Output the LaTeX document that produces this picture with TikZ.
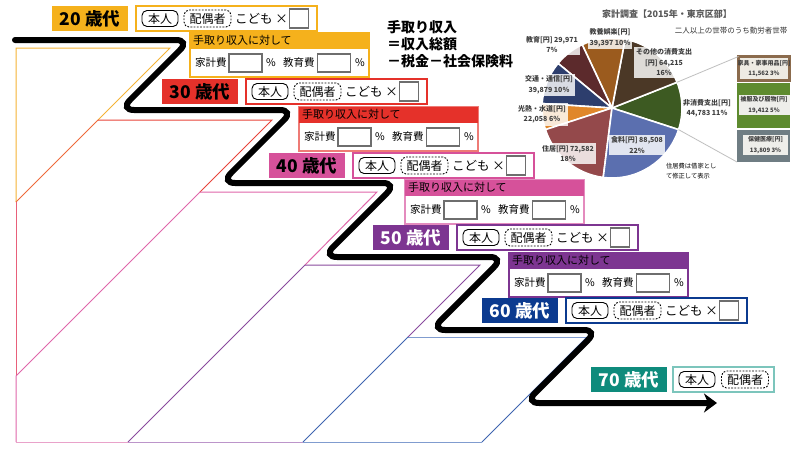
\documentclass[tikz,border=0pt]{standalone}
\usepackage{fontspec}
\setmainfont{Noto Sans CJK JP}
\usetikzlibrary{arrows.meta}

\definecolor{c20}{HTML}{F5B11C}
\definecolor{c30}{HTML}{E5312A}
\definecolor{c30l}{HTML}{EE7B76}
\definecolor{c40}{HTML}{D6519A}
\definecolor{c40l}{HTML}{E48BBE}
\definecolor{c50}{HTML}{7D3591}
\definecolor{c60}{HTML}{0B3A8F}
\definecolor{c70}{HTML}{0E8B7C}
\definecolor{c70l}{HTML}{7CC5BC}
\definecolor{ln20}{HTML}{F5B335}
\definecolor{ln2030}{HTML}{EE6A3A}
\definecolor{ln30}{HTML}{E8443A}
\definecolor{lnleft}{HTML}{E8607A}
\definecolor{ln40}{HTML}{E066AA}
\definecolor{ln40l}{HTML}{E9A2CA}
\definecolor{ln50}{HTML}{8A4A9E}
\definecolor{ln50l}{HTML}{BC95CA}
\definecolor{ln60}{HTML}{3E64B0}
\definecolor{ln60l}{HTML}{809CCF}
\definecolor{boxgray}{HTML}{6E6E6E}
\definecolor{pielabel}{HTML}{404040}
\definecolor{pgreen}{HTML}{3D5A22}
\definecolor{pother}{HTML}{4B3826}
\definecolor{pkyoyo}{HTML}{9B5B1E}
\definecolor{pkyoiku}{HTML}{5C2A2C}
\definecolor{pkotsu}{HTML}{2D3E6D}
\definecolor{pkonetsu}{HTML}{E0872A}
\definecolor{pjukyo}{HTML}{94494B}
\definecolor{pshoku}{HTML}{5B6FAF}
\definecolor{kagub}{HTML}{8B6B4D}
\definecolor{kaguf}{HTML}{EEEBE3}
\definecolor{hifuku}{HTML}{5E8B2F}
\definecolor{hoken}{HTML}{6F7D83}
\definecolor{colbox}{HTML}{EEEEEA}

\tikzset{
  every node/.style={inner sep=0pt, outer sep=0pt},
  agelabel/.style={anchor=north west, minimum width=76pt, minimum height=25pt, font=\fontsize{17.5}{18}\selectfont\bfseries},
  wbox/.style={anchor=north west, minimum width=181pt, minimum height=25pt, fill=white, line width=1.2pt},
  honnin/.style={draw=black, rounded corners=5pt, line width=0.9pt, minimum width=36pt, minimum height=16pt, font=\fontsize{12}{12}\selectfont},
  haigu/.style={honnin, dash pattern=on 1.8pt off 1.4pt, minimum width=47pt, minimum height=17pt},
  kodomo/.style={anchor=west, font=\fontsize{12.5}{12.5}\selectfont},
  sqbox/.style={draw=boxgray, line width=1.4pt, fill=white, minimum width=19pt, minimum height=19pt},
  tbody/.style={anchor=north west, minimum width=179pt, minimum height=44pt, fill=white, line width=1.2pt},
  thead/.style={anchor=north west, minimum height=15.5pt, text width=173pt, inner xsep=3pt, align=left, font=\fontsize{11}{11}\selectfont},
  tsmall/.style={font=\fontsize{10.5}{10.5}\selectfont},
  inbox/.style={draw=boxgray, line width=1.4pt, fill=white, minimum width=33pt, minimum height=18pt},
  stairline/.style={line width=1pt, line join=miter},
  pielab/.style={font=\fontsize{7}{10.5}\selectfont\bfseries, text=pielabel, align=center, fill=white, fill opacity=0.82, text opacity=1, inner sep=2pt},
  collab/.style={font=\fontsize{6}{10.5}\selectfont\bfseries, text=pielabel, align=center, inner sep=2pt},
  pienote/.style={font=\fontsize{6.3}{10}\selectfont, align=left, anchor=west},
  slice/.style={draw=white, line width=1.6pt, line join=round},
  colline/.style={draw=gray!50, line width=0.8pt},
  formula/.style={anchor=west, font=\fontsize{14}{14}\selectfont\bfseries},
}

\newcommand{\AgeRow}[6]{%
  \node[agelabel, fill=#3, text=#4] (lab#6) at (#1,#2) {#5 歳代};
  \node[wbox, draw=#3] (wb#6) at ({#1+84},#2) {};
  \node[honnin] (hn#6) at ({#1+84+24},{#2+12.5}) {本人};
  \node[haigu] (hg#6) at ({#1+84+71.5},{#2+12.5}) {配偶者};
  \node[kodomo] (kd#6) at ({#1+84+99},{#2+12.5}) {こども ×};
  \node[sqbox] (sq#6) at ({#1+84+163},{#2+12.5}) {};
}
\newcommand{\TedoriBox}[5]{%
  \node[tbody, draw=#4] (tb#5) at (#1,#2) {};
  \node[thead, fill=#3] (th#5) at (#1,#2) {手取り収入に対して};
  \node[tsmall, anchor=west] (kk#5) at ({#1+5},{#2+30}) {家計費};
  \node[inbox] (ia#5) at ({#1+55.5},{#2+30}) {};
  \node[tsmall] (pa#5) at ({#1+81},{#2+30}) {\%};
  \node[tsmall, anchor=west] (ky#5) at ({#1+93},{#2+30}) {教育費};
  \node[inbox] (ib#5) at ({#1+144},{#2+30}) {};
  \node[tsmall] (pb#5) at ({#1+170},{#2+30}) {\%};
}

\begin{document}
\begin{tikzpicture}[x=1pt,y=-1pt]
\useasboundingbox[fill=white] (0,0) rectangle (800,450);

% ---- parallelogram outlines ----
\draw[stairline, ln20] (16,202) -- (16,48) -- (170,48) -- (98,120);
\draw[stairline, ln2030] (98,120) -- (16,202);
\draw[stairline, ln30] (98,120) -- (272,120) -- (200,192);
\draw[stairline, lnleft] (16,202) -- (16,376);
\draw[stairline, ln40] (200,192) -- (377,192) -- (305,265);
\draw[stairline, ln40] (200,192) -- (16,376) -- (16,442);
\draw[stairline, ln40l] (16,442) -- (128,442);
\draw[stairline, ln50] (305,265) -- (480,265) -- (408,337);
\draw[stairline, ln50] (305,265) -- (128,442);
\draw[stairline, ln50l] (128,442) -- (303,442);
\draw[stairline, ln60l] (408,337) -- (587,337);
\draw[stairline, ln60] (587,337) -- (482,442);
\draw[stairline, ln60] (408,337) -- (303,442);
\draw[stairline, ln60l] (303,442) -- (482,442);

% ---- thick life path ----
\coordinate (s0) at (15,40);
\coordinate (r0) at (190,40);
\coordinate (l0) at (120,110);
\coordinate (r1) at (294,110);
\coordinate (l1) at (221,183);
\coordinate (r2) at (397,183);
\coordinate (l2) at (323,257);
\coordinate (r3) at (504,257);
\coordinate (l3) at (431,330);
\coordinate (r4) at (598,330);
\coordinate (l4) at (525,403);
\coordinate (e0) at (717,403);
\draw[line width=6pt, rounded corners=14pt, line cap=round, -{Stealth[length=13pt,width=19pt,inset=4pt]}]
  (s0) -- (r0) -- (l0) -- (r1) -- (l1) -- (r2) -- (l2) -- (r3) -- (l3) -- (r4) -- (l4) -- (e0);

% ---- age rows ----
\AgeRow{52}{6}{c20}{black}{20}{a}
\TedoriBox{190}{33}{c20}{c20}{a}
\AgeRow{162}{79}{c30}{black}{30}{b}
\TedoriBox{299}{107}{c30}{c30l}{b}
\AgeRow{269}{153}{c40}{black}{40}{c}
\TedoriBox{405}{180}{c40}{c40l}{c}
\AgeRow{373}{225}{c50}{white}{50}{d}
\TedoriBox{509}{253}{c50}{c50}{d}
\AgeRow{482}{298}{c60}{white}{60}{e}
\node[agelabel, fill=c70, text=white] (labf) at (591,367) {70 歳代};
\node[wbox, draw=c70l, minimum width=101pt] (wbf) at (673,367) {};
\node[honnin] (hnf) at (697,379.5) {本人};
\node[haigu] (hgf) at (745,379.5) {配偶者};

% ---- formula ----
\node[formula] (f1) at (387,27.5) {手取り収入};
\node[formula] (f2) at (387,44.5) {＝収入総額};
\node[formula] (f3) at (387,61.5) {－税金－社会保険料};

% ---- pie chart ----
\node[font=\fontsize{9}{9}\selectfont\bfseries, text=black!65] (ptitle) at (667,14) {家計調査【2015年・東京区部】};
\node[font=\fontsize{7.5}{7.5}\selectfont, text=black!80] (psub) at (731,31) {二人以上の世帯のうち勤労者世帯};
\begin{scope}[shift={(612,108)}]
  \coordinate (pc) at (0,0);
  \filldraw[slice, fill=pgreen] (0,0) -- (-18:70pt) arc[start angle=-18, end angle=21.6, radius=70pt] -- cycle;
  \filldraw[slice, fill=pother] (0,0) -- (21.6:70pt) arc[start angle=21.6, end angle=79.2, radius=70pt] -- cycle;
  \filldraw[slice, fill=pkyoyo] (0,0) -- (79.2:70pt) arc[start angle=79.2, end angle=115.2, radius=70pt] -- cycle;
  \filldraw[slice, fill=pkyoiku] (0,0) -- (115.2:70pt) arc[start angle=115.2, end angle=140.4, radius=70pt] -- cycle;
  \filldraw[slice, fill=pkotsu] (0,0) -- (140.4:70pt) arc[start angle=140.4, end angle=176.4, radius=70pt] -- cycle;
  \filldraw[slice, fill=pkonetsu] (0,0) -- (176.4:70pt) arc[start angle=176.4, end angle=198, radius=70pt] -- cycle;
  \filldraw[slice, fill=pjukyo] (0,0) -- (198:70pt) arc[start angle=198, end angle=262.8, radius=70pt] -- cycle;
  \filldraw[slice, fill=pshoku] (0,0) -- (262.8:70pt) arc[start angle=262.8, end angle=342, radius=70pt] -- cycle;
  \coordinate (pa1) at (21.6:70pt);
  \coordinate (pa2) at (-18:70pt);
\end{scope}
\node[pielab] (lkyoiku) at (552,44.5) {教育[円] 29,971\\7\%};
\node[pielab] (lkyoyo) at (610,38) {教養娯楽[円]\\39,397 10\%};
\node[pielab] (lother) at (664,62.5) {その他の消費支出\\{}[円] 64,215\\16\%};
\node[pielab] (lkotsu) at (549,85) {交通・通信[円]\\39,879 10\%};
\node[pielab] (lkonetsu) at (542,114.5) {光熱・水道[円]\\22,058 6\%};
\node[pielab] (ljukyo) at (568,153.5) {住居[円] 72,582\\18\%};
\node[pielab] (lshoku) at (637,145) {食料[円] 88,508\\22\%};
\node[pielab, fill opacity=0] (lhisho) at (707,108.5) {非消費支出[円]\\44,783 11\%};
\node[pienote] (lnote) at (666,171) {住居費は借家とし\\て修正して表示};

% ---- breakdown column ----
\node[anchor=north west, draw=kagub, line width=2.5pt, fill=kaguf, minimum width=51pt, minimum height=24pt] (kagu) at (738.5,56.5) {};
\node[collab] (tkagu) at (kagu.center) {家具・家事用品[円]\\11,562 3\%};
\node[anchor=north west, fill=hifuku, minimum width=53pt, minimum height=45pt] (hifu) at (737,83) {};
\node[collab, fill=colbox, minimum width=51pt] (thifu) at (764,105) {被服及び履物[円]\\19,412 5\%};
\node[anchor=north west, fill=hoken, minimum width=53pt, minimum height=32pt] (hoke) at (737,130) {};
\node[collab, fill=colbox, minimum width=45pt] (thoke) at (765.5,145) {保健医療[円]\\13,809 3\%};
\draw[colline] (pa1) -- (kagu.north west);
\draw[colline] (pa2) -- (hoke.south west);
\end{tikzpicture}
\end{document}
